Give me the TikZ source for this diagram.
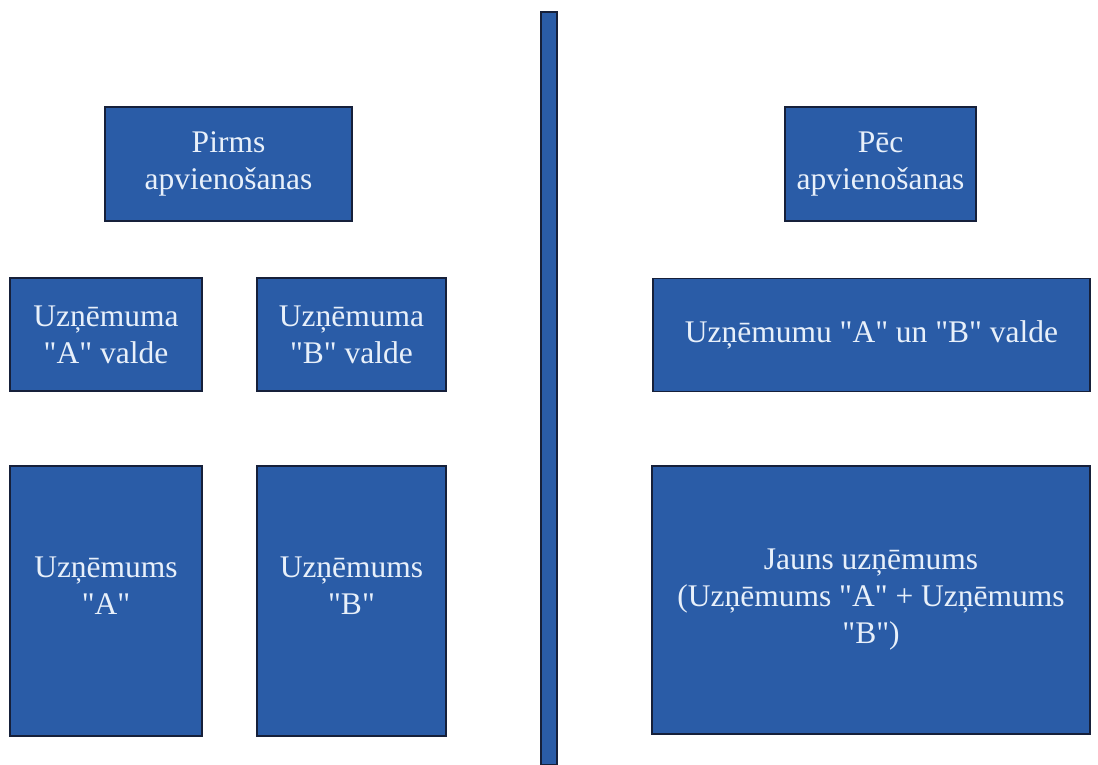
\documentclass[tikz,border=0pt]{standalone}
\usepackage{fontspec}
\setmainfont{Liberation Serif}[Ligatures=TeXOff]
\usepackage{tikz}
\definecolor{zilsbloks}{RGB}{42,92,167}
\definecolor{tumsmala}{RGB}{22,32,58}
\definecolor{gaisteksts}{RGB}{232,240,250}

\begin{document}
\begin{tikzpicture}[x=1pt, y=-1pt,
      bloks/.style={draw=tumsmala, line width=1.2pt, fill=zilsbloks,
                    text=gaisteksts, align=center, inner sep=0pt,
                    font=\fontsize{31.5}{37}\selectfont},
      virsraksts/.style={bloks, minimum height=114pt},
      valde/.style={bloks, minimum height=113pt},
      uznemums/.style={bloks, minimum height=270pt, text depth=30pt}]
    \useasboundingbox (0,0) rectangle (1098,765);
    % dalijuma siena
    \node[bloks, minimum width=16pt, minimum height=753pt] (siena) at (549,388.5) {};
    % pirms apvienosanas
    \node[virsraksts, minimum width=247pt] (pirms) at (228.5,164) {Pirms\\apvienošanas};
    \node[valde, minimum width=192pt] (valdeA) at (106,334.5) {Uzņēmuma\\"A" valde};
    \node[valde, minimum width=189pt] (valdeB) at (351.5,334.5) {Uzņēmuma\\"B" valde};
    \node[uznemums, minimum width=192pt] (uznA) at (106,601) {Uzņēmums\\"A"};
    \node[uznemums, minimum width=189pt] (uznB) at (351.5,601) {Uzņēmums\\"B"};
    % pec apvienosanas
    \node[virsraksts, minimum width=191pt] (pec) at (880.5,164) {Pēc\\apvienošanas};
    \node[valde, minimum width=437pt] (valdeAB) at (871.5,335) {Uzņēmumu "A" un "B" valde};
    \node[bloks, minimum width=438pt, minimum height=268pt] (jauns) at (871,600)
          {Jauns uzņēmums\\(Uzņēmums "A" + Uzņēmums\\"B")};
  \end{tikzpicture}
\end{document}
